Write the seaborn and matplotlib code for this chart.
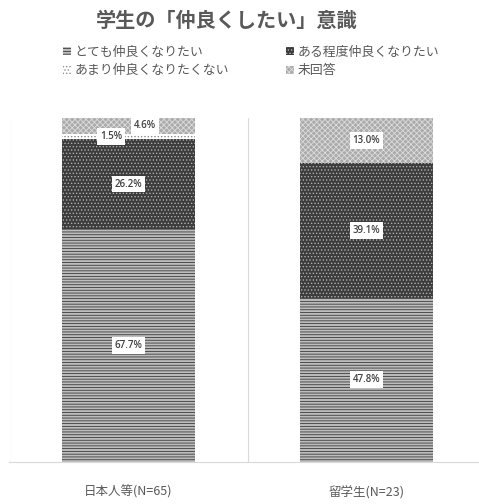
import matplotlib
matplotlib.use("Agg")
import matplotlib.pyplot as plt
from matplotlib.patches import Patch
import pandas as pd
import seaborn as sns

# chart data
categories = ['日本人等(N=65)', '留学生(N=23)']
series_names = ['とても仲良くなりたい', 'ある程度仲良くなりたい', 'あまり仲良くなりたくない', '未回答']
very = [67.7, 47.8]
somewhat = [26.2, 39.1]
not_much = [1.5, 0.0]
no_answer = [4.6, 13.0]

sns.set_theme(style='white')
plt.rcParams['font.family'] = ['Noto Sans CJK JP', 'DejaVu Sans']
plt.rcParams['hatch.linewidth'] = 0.6

df = pd.DataFrame({'cat': categories, 'very': very, 'somewhat': somewhat,
                   'not_much': not_much, 'no_answer': no_answer})
df['c1'] = df['very']
df['c2'] = df['c1'] + df['somewhat']
df['c3'] = df['c2'] + df['not_much']
df['c4'] = df['c3'] + df['no_answer']

# face, hatch, hatch colour per series
styles = [
    ('#bdbdbd', '------', '#3a3a3a'),
    ('#3c3c3c', '.....', '#b0b0b0'),
    ('#ffffff', '.....', '#8a8a8a'),
    ('#ababab', 'xxxxxx', '#dcdcdc'),
]

fig = plt.figure(figsize=(4.79, 5.04), dpi=100)
ax = fig.add_axes([9.5 / 479, 1 - 462 / 504, 476 / 479, 344 / 504])

# stacked bars: draw tallest cumulative first
for col, (fc, hatch, hc) in zip(['c4', 'c3', 'c2', 'c1'], styles[::-1]):
    sns.barplot(data=df, x='cat', y=col, color=fc, saturation=1, width=0.56,
                hatch=hatch, edgecolor=hc, linewidth=0, ax=ax)

ax.set_xlim(-0.5, 1.5)
ax.set_ylim(0, 100)
ax.set_xlabel('')
ax.set_ylabel('')
ax.set_yticks([])
for s in ['top', 'right', 'left']:
    ax.spines[s].set_visible(False)
ax.spines['bottom'].set_color('#d9d9d9')
ax.spines['bottom'].set_linewidth(0.8)
for xv in [-0.5, 0.5]:
    ax.axvline(xv, color='#d9d9d9', lw=0.8, zorder=0)
ax.tick_params(axis='x', length=0, pad=17, labelsize=9, labelcolor='#595959')

# value labels
box = dict(facecolor='white', edgecolor='none', pad=2)
for i in range(len(categories)):
    segs = [(very[i], 0, 0), (somewhat[i], df['c1'][i], 0),
            (not_much[i], df['c2'][i], -0.074), (no_answer[i], df['c3'][i], 0.07 if not_much[i] > 0 else 0)]
    for val, base, dx in segs:
        if val <= 0:
            continue
        ax.text(i + dx, base + val / 2, f'{val:.1f}%', ha='center', va='center',
                fontsize=7, fontweight='semibold', color='#404040', bbox=box,
                family=['Open Sans', 'DejaVu Sans'], zorder=5)

fig.text(227 / 479, 1 - 20 / 504, '学生の「仲良くしたい」意識', ha='center', va='center',
         fontsize=14.5, fontweight='bold', color='#595959')

handles = [Patch(facecolor=fc, hatch=h, edgecolor=hc, linewidth=0) for fc, h, hc in styles]
order = [0, 2, 1, 3]
fig.legend([handles[k] for k in order], [series_names[k] for k in order],
           loc='upper left', bbox_to_anchor=(57 / 479, 1 - 39 / 504), ncol=2,
           frameon=False, fontsize=9.3, labelcolor='#595959',
           handlelength=0.6, handleheight=0.6, handletextpad=0.25,
           columnspacing=4.45, labelspacing=0.45, borderpad=0)

fig.savefig('out.png', dpi=100)
